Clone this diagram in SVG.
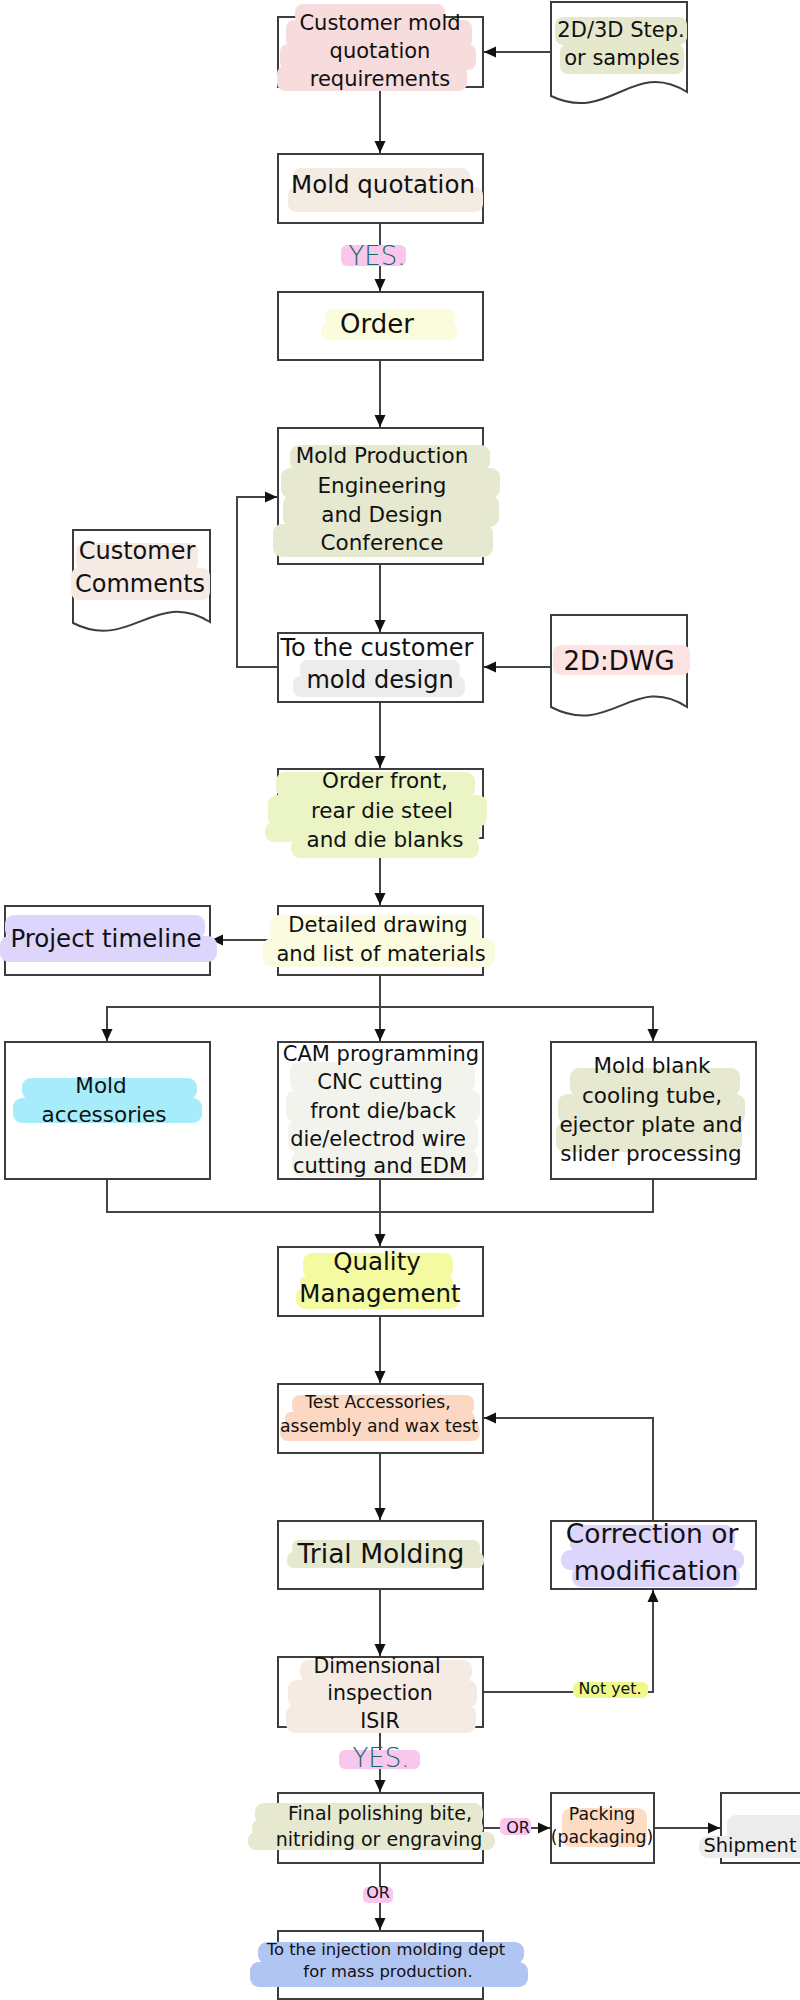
<svg xmlns="http://www.w3.org/2000/svg" width="800" height="2000" viewBox="0 0 800 2000">
<style>
.box{fill:#fff;stroke:#3d3d3d;stroke-width:2}
.doc{fill:#fff;stroke:#3d3d3d;stroke-width:2}
.ln{fill:none;stroke:#444;stroke-width:2}
.t{font-family:"DejaVu Sans","Liberation Sans",sans-serif;fill:#111;text-anchor:middle}
.yes{font-family:"DejaVu Sans","Liberation Sans",sans-serif;fill:#176660;text-anchor:middle;font-weight:200;font-size:26px}
.or{font-family:"DejaVu Sans","Liberation Sans",sans-serif;fill:#111;text-anchor:middle;font-size:16px}
</style>
<defs>
<marker id="ah" viewBox="0 0 12 12" refX="12" refY="6" markerWidth="12" markerHeight="12" markerUnits="userSpaceOnUse" orient="auto">
<path d="M0,0.5 L12,6 L0,11.5 z" fill="#111"/>
</marker>
</defs>

<rect width="800" height="2000" fill="#fff"/>

<g id="connectors">
<path class="ln" d="M551,52 H484" marker-end="url(#ah)"/>
<path class="ln" d="M380,87 V153" marker-end="url(#ah)"/>
<path class="ln" d="M380,223 V291" marker-end="url(#ah)"/>
<path class="ln" d="M380,360 V427" marker-end="url(#ah)"/>
<path class="ln" d="M380,564 V632" marker-end="url(#ah)"/>
<path class="ln" d="M278,667 H237 V497 H277" marker-end="url(#ah)"/>
<path class="ln" d="M551,667 H484" marker-end="url(#ah)"/>
<path class="ln" d="M380,702 V768" marker-end="url(#ah)"/>
<path class="ln" d="M380,838 V905" marker-end="url(#ah)"/>
<path class="ln" d="M278,940 H211" marker-end="url(#ah)"/>
<path class="ln" d="M380,975 V1041" marker-end="url(#ah)"/>
<path class="ln" d="M107,1041 V1007 H653 V1041" marker-end="url(#ah)"/>
<path class="ln" d="M107,1007 V1041" marker-end="url(#ah)"/>
<path class="ln" d="M107,1179 V1212 H653 V1179"/>
<path class="ln" d="M380,1179 V1246" marker-end="url(#ah)"/>
<path class="ln" d="M380,1316 V1383" marker-end="url(#ah)"/>
<path class="ln" d="M653,1521 V1418 H484" marker-end="url(#ah)"/>
<path class="ln" d="M380,1453 V1520" marker-end="url(#ah)"/>
<path class="ln" d="M380,1589 V1656" marker-end="url(#ah)"/>
<path class="ln" d="M483,1692 H653 V1590" marker-end="url(#ah)"/>
<path class="ln" d="M380,1727 V1792" marker-end="url(#ah)"/>
<path class="ln" d="M483,1828 H550" marker-end="url(#ah)"/>
<path class="ln" d="M654,1828 H720" marker-end="url(#ah)"/>
<path class="ln" d="M380,1863 V1930" marker-end="url(#ah)"/>
</g>

<g id="n-quote-req">
<rect class="box" x="278" y="17" width="205" height="70"/>
<g fill="#f6dcdc">
<rect x="295" y="4" width="150" height="20" rx="8"/>
<rect x="286" y="20" width="186" height="28" rx="8"/>
<rect x="280" y="44" width="196" height="26" rx="8"/>
<rect x="277" y="66" width="190" height="25" rx="8"/>
</g>
<text class="t" font-size="21" x="380" y="30">Customer mold</text>
<text class="t" font-size="21" x="380" y="58">quotation</text>
<text class="t" font-size="21" x="380" y="86">requirements</text>
</g>

<g id="n-step">
<path class="doc" d="M551,2 H687 V92 C632,58 610,124 551,96 Z"/>
<g fill="#e6e8cd">
<rect x="555" y="17" width="132" height="28" rx="8"/>
<rect x="560" y="44" width="124" height="30" rx="8"/>
</g>
<text class="t" font-size="21" x="621" y="37">2D/3D Step.</text>
<text class="t" font-size="21" x="622" y="65">or samples</text>
</g>

<g id="n-quotation">
<rect class="box" x="278" y="154" width="205" height="69"/>
<g fill="#f4ebe2">
<rect x="293" y="168" width="177" height="24" rx="8"/>
<rect x="288" y="187" width="195" height="25" rx="8"/>
</g>
<text class="t" font-size="24.5" x="383" y="193">Mold quotation</text>
</g>

<g id="l-yes1">
<rect x="341" y="245" width="65" height="21" rx="6" fill="#f9c6ee"/>
<text class="yes" x="377" y="265">YES.</text>
</g>

<g id="n-order">
<rect class="box" x="278" y="292" width="205" height="68"/>
<g fill="#fbfcdc">
<rect x="325" y="309" width="130" height="18" rx="8"/>
<rect x="321" y="322" width="136" height="18" rx="8"/>
</g>
<text class="t" font-size="26" x="377" y="333">Order</text>
</g>

<g id="n-conference">
<rect class="box" x="278" y="428" width="205" height="136"/>
<g fill="#e6e9d0">
<rect x="290" y="445" width="200" height="26" rx="9"/>
<rect x="281" y="468" width="219" height="30" rx="9"/>
<rect x="283" y="495" width="216" height="32" rx="9"/>
<rect x="273" y="524" width="220" height="33" rx="9"/>
</g>
<text class="t" font-size="21.5" x="382" y="463">Mold Production</text>
<text class="t" font-size="21.5" x="382" y="493">Engineering</text>
<text class="t" font-size="21.5" x="382" y="522">and Design</text>
<text class="t" font-size="21.5" x="382" y="550">Conference</text>
</g>

<g id="n-comments">
<path class="doc" d="M73,530 H210 V622 C155,588 130,652 73,623 Z"/>
<g fill="#f5ebe4">
<rect x="76" y="543" width="122" height="28" rx="8"/>
<rect x="71" y="568" width="139" height="32" rx="8"/>
</g>
<text class="t" font-size="24" x="137" y="559">Customer</text>
<text class="t" font-size="24" x="140" y="592">Comments</text>
</g>

<g id="n-design">
<rect class="box" x="278" y="633" width="205" height="69"/>
<g fill="#ececec">
<rect x="300" y="660" width="160" height="20" rx="8"/>
<rect x="293" y="676" width="172" height="21" rx="8"/>
</g>
<text class="t" font-size="24" x="377" y="656">To the customer</text>
<text class="t" font-size="24" x="380" y="688">mold design</text>
</g>

<g id="n-dwg">
<path class="doc" d="M551,615 H687 V707 C634,672 610,738 551,707 Z"/>
<rect x="553" y="645" width="137" height="30" rx="8" fill="#fde2e2"/>
<text class="t" font-size="26" x="619" y="670">2D:DWG</text>
</g>

<g id="n-steel">
<rect class="box" x="278" y="769" width="205" height="69"/>
<g fill="#eaf4c5">
<rect x="276" y="772" width="199" height="26" rx="9"/>
<rect x="268" y="795" width="219" height="32" rx="9"/>
<rect x="265" y="822" width="216" height="20" rx="9"/>
<rect x="291" y="838" width="188" height="20" rx="9"/>
</g>
<text class="t" font-size="21.5" x="385" y="788">Order front,</text>
<text class="t" font-size="21.5" x="382" y="818">rear die steel</text>
<text class="t" font-size="21.5" x="385" y="847">and die blanks</text>
</g>

<g id="n-drawing">
<rect class="box" x="278" y="906" width="205" height="69"/>
<g fill="#fbfbdf">
<rect x="270" y="915" width="210" height="26" rx="9"/>
<rect x="263" y="938" width="232" height="29" rx="9"/>
</g>
<text class="t" font-size="21" x="378" y="932">Detailed drawing</text>
<text class="t" font-size="21" x="381" y="961">and list of materials</text>
</g>

<g id="n-timeline">
<rect class="box" x="5" y="906" width="205" height="69"/>
<g fill="#ddd5fb">
<rect x="5" y="915" width="200" height="24" rx="9"/>
<rect x="0" y="936" width="217" height="26" rx="9"/>
</g>
<text class="t" font-size="24.5" x="106" y="947">Project timeline</text>
</g>

<g id="n-accessories">
<rect class="box" x="5" y="1042" width="205" height="137"/>
<g fill="#a7ecfb">
<rect x="22" y="1078" width="175" height="22" rx="9"/>
<rect x="13" y="1098" width="189" height="25" rx="9"/>
</g>
<text class="t" font-size="21.5" x="101" y="1093">Mold</text>
<text class="t" font-size="21.5" x="104" y="1122">accessories</text>
</g>

<g id="n-cam">
<rect class="box" x="278" y="1042" width="205" height="137"/>
<g fill="#f3f3ed">
<rect x="290" y="1062" width="185" height="30" rx="9"/>
<rect x="286" y="1090" width="194" height="32" rx="9"/>
<rect x="288" y="1120" width="190" height="32" rx="9"/>
<rect x="292" y="1150" width="186" height="27" rx="9"/>
</g>
<text class="t" font-size="21" x="381" y="1061">CAM programming</text>
<text class="t" font-size="21" x="380" y="1089">CNC cutting</text>
<text class="t" font-size="21" x="383" y="1118">front die/back</text>
<text class="t" font-size="21" x="378" y="1146">die/electrod wire</text>
<text class="t" font-size="21" x="380" y="1173">cutting and EDM</text>
</g>

<g id="n-blank">
<rect class="box" x="551" y="1042" width="205" height="137"/>
<g fill="#e6e8d0">
<rect x="570" y="1068" width="170" height="28" rx="9"/>
<rect x="558" y="1094" width="187" height="30" rx="9"/>
<rect x="556" y="1122" width="186" height="30" rx="9"/>
</g>
<text class="t" font-size="21.5" x="652" y="1073">Mold blank</text>
<text class="t" font-size="21.5" x="652" y="1103">cooling tube,</text>
<text class="t" font-size="21.5" x="651" y="1132">ejector plate and</text>
<text class="t" font-size="21.5" x="651" y="1161">slider processing</text>
</g>

<g id="n-quality">
<rect class="box" x="278" y="1247" width="205" height="69"/>
<g fill="#f4fa9f">
<rect x="303" y="1253" width="150" height="26" rx="9"/>
<rect x="300" y="1276" width="153" height="14" rx="6"/>
<rect x="296" y="1287" width="163" height="22" rx="9"/>
</g>
<text class="t" font-size="24.5" x="377" y="1270">Quality</text>
<text class="t" font-size="24.5" x="380" y="1302">Management</text>
</g>

<g id="n-test">
<rect class="box" x="278" y="1384" width="205" height="69"/>
<g fill="#fcd8c2">
<rect x="292" y="1395" width="182" height="20" rx="8"/>
<rect x="285" y="1412" width="190" height="14" rx="6"/>
<rect x="280" y="1422" width="200" height="19" rx="8"/>
</g>
<text class="t" font-size="17.2" x="378" y="1408">Test Accessories,</text>
<text class="t" font-size="17.2" x="379" y="1432">assembly and wax test</text>
</g>

<g id="n-trial">
<rect class="box" x="278" y="1521" width="205" height="68"/>
<g fill="#e6e9d0">
<rect x="292" y="1540" width="188" height="16" rx="7"/>
<rect x="287" y="1552" width="197" height="16" rx="7"/>
</g>
<text class="t" font-size="26.5" x="381" y="1563">Trial Molding</text>
</g>

<g id="n-correction">
<rect class="box" x="551" y="1521" width="205" height="68"/>
<g fill="#ddd5fb">
<rect x="570" y="1525" width="165" height="28" rx="9"/>
<rect x="561" y="1550" width="183" height="20" rx="9"/>
<rect x="572" y="1566" width="168" height="21" rx="9"/>
</g>
<text class="t" font-size="26.5" x="652" y="1543">Correction or</text>
<text class="t" font-size="26.5" x="656" y="1580">modification</text>
</g>

<g id="n-inspection">
<rect class="box" x="278" y="1657" width="205" height="70"/>
<g fill="#f5ebe3">
<rect x="300" y="1660" width="172" height="22" rx="9"/>
<rect x="288" y="1680" width="189" height="28" rx="9"/>
<rect x="286" y="1705" width="190" height="28" rx="9"/>
</g>
<text class="t" font-size="20.5" x="377" y="1673">Dimensional</text>
<text class="t" font-size="20.5" x="380" y="1700">inspection</text>
<text class="t" font-size="20.5" x="380" y="1728">ISIR</text>
</g>

<g id="l-notyet">
<rect x="573" y="1682" width="75" height="16" rx="6" fill="#eff98a"/>
<text class="t" font-size="15.8" x="610" y="1694">Not yet.</text>
</g>

<g id="l-yes2">
<rect x="339" y="1750" width="81" height="19" rx="6" fill="#f9c6ee"/>
<text class="yes" x="381" y="1767">YES.</text>
</g>

<g id="n-polish">
<rect class="box" x="278" y="1793" width="205" height="70"/>
<g fill="#e6e9d0">
<rect x="255" y="1803" width="228" height="22" rx="9"/>
<rect x="248" y="1832" width="247" height="18" rx="8"/>
<rect x="252" y="1820" width="231" height="16" rx="7"/>
</g>
<text class="t" font-size="19" x="380" y="1820">Final polishing bite,</text>
<text class="t" font-size="19" x="379" y="1846">nitriding or engraving</text>
</g>

<g id="l-or1">
<rect x="500" y="1818" width="31" height="17" rx="5" fill="#f9c6ee"/>
<text class="or" x="518" y="1833">OR</text>
</g>

<g id="n-packing">
<rect class="box" x="551" y="1793" width="103" height="70"/>
<rect x="562" y="1808" width="85" height="39" rx="9" fill="#fcdcc3"/>
<text class="t" font-size="17.3" x="602" y="1820">Packing</text>
<text class="t" font-size="17.3" x="602" y="1843">(packaging)</text>
</g>

<g id="n-shipment">
<rect class="box" x="721" y="1793" width="100" height="70"/>
<g fill="#ececec">
<rect x="727" y="1815" width="90" height="28" rx="9"/>
<rect x="699" y="1836" width="110" height="22" rx="9"/>
</g>
<text class="t" font-size="19.4" x="750" y="1852">Shipment</text>
</g>

<g id="l-or2">
<rect x="363" y="1887" width="30" height="16" rx="5" fill="#f9c6ee"/>
<text class="or" x="378" y="1898">OR</text>
</g>

<g id="n-mass">
<rect class="box" x="278" y="1931" width="205" height="68"/>
<g fill="#b1c5f3">
<rect x="258" y="1942" width="266" height="22" rx="9"/>
<rect x="250" y="1962" width="278" height="25" rx="9"/>
</g>
<text class="t" font-size="16.4" x="386" y="1955">To the injection molding dept</text>
<text class="t" font-size="16.4" x="388" y="1977">for mass production.</text>
</g>
</svg>
